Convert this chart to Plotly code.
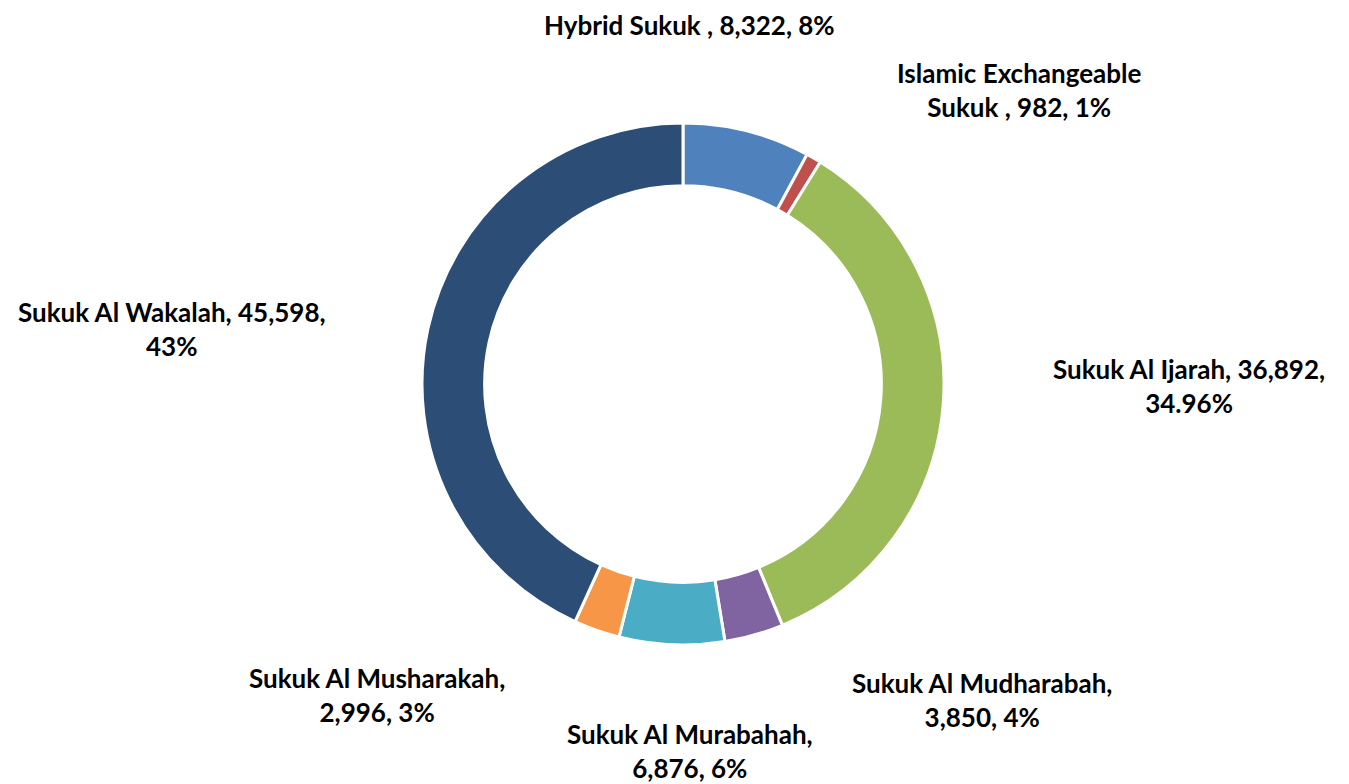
import plotly.graph_objects as go

labels = ["Hybrid Sukuk", "Islamic Exchangeable Sukuk", "Sukuk Al Ijarah", "Sukuk Al Mudharabah",
          "Sukuk Al Murabahah", "Sukuk Al Musharakah", "Sukuk Al Wakalah"]
values = [8322, 982, 36892, 3850, 6876, 2996, 45598]
pct_text = ["8%", "1%", "34.96%", "4%", "6%", "3%", "43%"]
label_text = [
    "Hybrid Sukuk , 8,322, 8%",
    "Islamic Exchangeable<br>Sukuk , 982, 1%",
    "Sukuk Al Ijarah, 36,892,<br>34.96%",
    "Sukuk Al Mudharabah,<br>3,850, 4%",
    "Sukuk Al Murabahah,<br>6,876, 6%",
    "Sukuk Al Musharakah,<br>2,996, 3%",
    "Sukuk Al Wakalah, 45,598,<br>43%",
]
colors = ["#4F81BD", "#C0504D", "#9BBB59", "#8064A2", "#4BACC6", "#F79646", "#2C4D75"]

W, H = 1349, 784
OFF = 8  # page body margin
cx, cy, R = 683 - OFF, 384 - OFF, 261
label_pos = [(689, 25), (1019, 90), (1189, 386), (982, 700), (690, 751), (377, 695), (172, 329)]

fig = go.Figure(go.Pie(
    labels=labels, values=values, hole=0.76, sort=False, direction="clockwise", rotation=0,
    marker=dict(colors=colors, line=dict(color="white", width=3)),
    textinfo="none", hoverinfo="label+value+percent", showlegend=False,
    domain=dict(x=[(cx - R) / W, (cx + R) / W], y=[(H - cy - R) / H, (H - cy + R) / H]),
))

for t, (x, y) in zip(label_text, label_pos):
    fig.add_annotation(x=(x - OFF) / W, y=1 - (y - OFF) / H, xref="paper", yref="paper",
                       text="<b>" + t + "</b>",
                       showarrow=False, xanchor="center", yanchor="middle",
                       font=dict(family="Lato", size=26, color="black"), align="center")

fig.update_layout(width=W, height=H, margin=dict(l=0, r=0, t=0, b=0),
                  paper_bgcolor="white", plot_bgcolor="white")
fig.write_html("out.html")
